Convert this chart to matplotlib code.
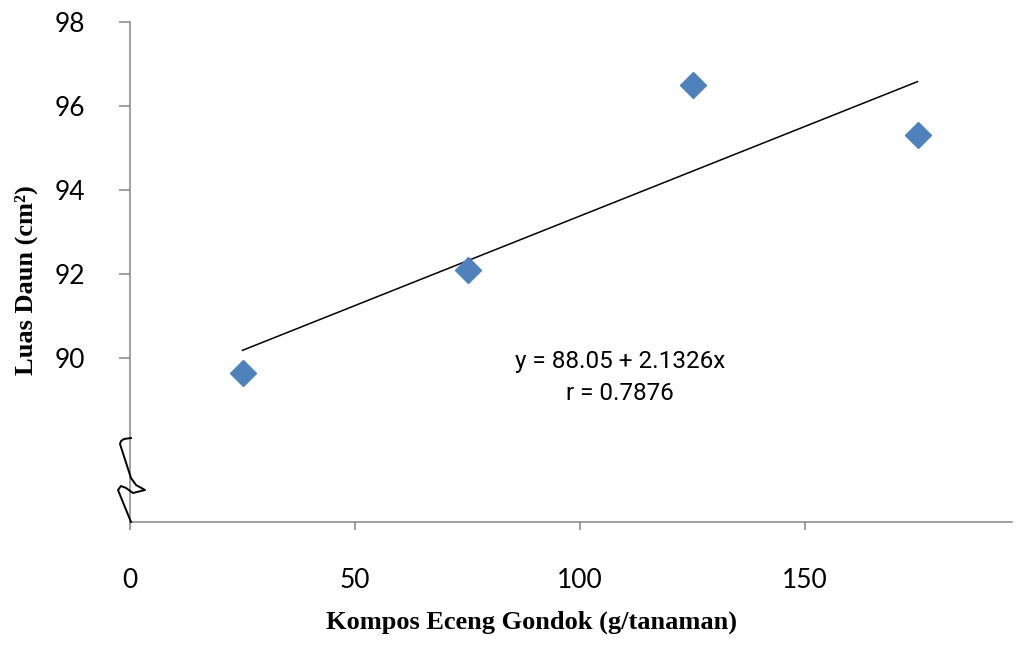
import matplotlib.pyplot as plt
import numpy as np

# data
dosis = [25, 75, 125, 175]
luas_daun = [89.65, 92.1, 96.5, 95.3]
a, b = 88.05, 2.1326  # y = a + b*x, x = perlakuan ke-1..4
r_val = 0.7876
xticks = [0, 50, 100, 150]
yticks = [90, 92, 94, 96, 98]

fig = plt.figure(figsize=(10.26, 6.46), dpi=100)
ax = fig.add_axes([130/1026, 1-522/646, (1012-130)/1026, (522-22)/646])

ax.plot(dosis, luas_daun, 'D', color='#4F81BD', markersize=13, zorder=3)
perlakuan = np.arange(1, len(dosis) + 1)
ax.plot([dosis[0], dosis[-1]], [a + b*perlakuan[0], a + b*perlakuan[-1]],
        color='black', lw=1.1)

ax.set_xlim(0, 196)
ax.set_ylim(90 - 164/42, 98)
ax.set_xticks(xticks)
ax.set_yticks(yticks)
ax.set_xticklabels([str(t) for t in xticks], family='Lato', fontsize=19)
ax.set_yticklabels([str(t) for t in yticks], family='Lato', fontsize=19)
ax.tick_params(axis='x', length=6, width=1.1, color='#868686', pad=27)
ax.tick_params(axis='y', length=8, width=1.1, color='#868686', pad=24)

for s in ['top', 'right']:
    ax.spines[s].set_visible(False)
for s in ['left', 'bottom']:
    ax.spines[s].set_color('#868686')
    ax.spines[s].set_linewidth(1.1)

# axis break squiggle (pixel offsets converted to data)
px = np.array([131, 124, 121, 120, 131, 136, 145, 133, 126, 121, 118, 131])
py = np.array([438, 439, 441, 444, 478, 485, 490, 493, 488, 486, 490, 522])
ax.plot((px - 130)/4.5, 90 - (py - 358)/42, color='black', lw=1.4,
        clip_on=False, solid_joinstyle='round', zorder=4)

ax.text((620-130)/4.5, 90 + (358-361)/42, 'y = 88.05 + 2.1326x',
        family='Roboto', fontsize=17.5, ha='center', va='center')
ax.text((620-130)/4.5, 90 - (393-358)/42, 'r = %.4f' % r_val,
        family='Roboto', fontsize=17.5, ha='center', va='center')

fig.text(532/1026, 1-622/646, 'Kompos Eceng Gondok (g/tanaman)',
         family='Liberation Serif', fontweight='bold', fontsize=19,
         ha='center', va='center')
fig.text(26/1026, 1-280/646, 'Luas Daun (cm²)',
         family='Liberation Serif', fontweight='bold', fontsize=19,
         ha='center', va='center', rotation=90)

fig.savefig('out.png', dpi=100)
